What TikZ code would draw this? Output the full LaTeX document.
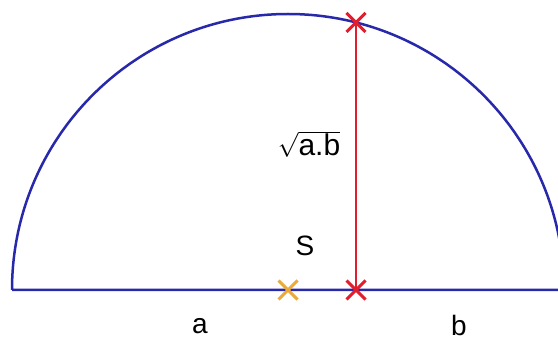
\documentclass[tikz,border=0pt]{standalone}
\usepackage{fontspec}
\setmainfont{Liberation Sans}
\usetikzlibrary{shapes.misc}
\definecolor{arcblue}{RGB}{40,40,170}
\definecolor{chordred}{RGB}{225,30,45}
\definecolor{centreorange}{RGB}{235,170,60}

\begin{document}
\begin{tikzpicture}[x=1pt,y=-1pt]
      \tikzstyle{every node}=[font=\fontsize{28}{32}\selectfont]
      \tikzstyle{crossmark}=[cross out, draw, line width=3pt, minimum size=16pt, inner sep=0pt]

      \useasboundingbox (0,0) rectangle (558,342);
      \fill[white] (0,0) rectangle (558,342);

      % diameter and semicircle
      \coordinate (A) at (12,290);
      \coordinate (B) at (564,290);
      \coordinate (S) at (288,290);
      \draw[arcblue, line width=2.5pt] (A) -- (B) arc[start angle=0, end angle=-180, radius=276];

      % perpendicular
      \coordinate (Q) at (356,290);
      \coordinate (P) at (356,22.5);
      \draw[chordred, line width=2.2pt] (Q) -- (P);

      \node[crossmark, centreorange] (crossS) at (S) {};
      \node[crossmark, chordred] (crossQ) at (Q) {};
      \node[crossmark, chordred] (crossP) at (P) {};

      \node (labelS) at (305,246) {S};
      \node (labela) at (200,326) {a};
      \node (labelb) at (459,325) {b};
      \node[font=\fontsize{30}{34}\selectfont] (labelroot) at (309,144) {$\sqrt{\mbox{a.b}}$};

\end{tikzpicture}
\end{document}
